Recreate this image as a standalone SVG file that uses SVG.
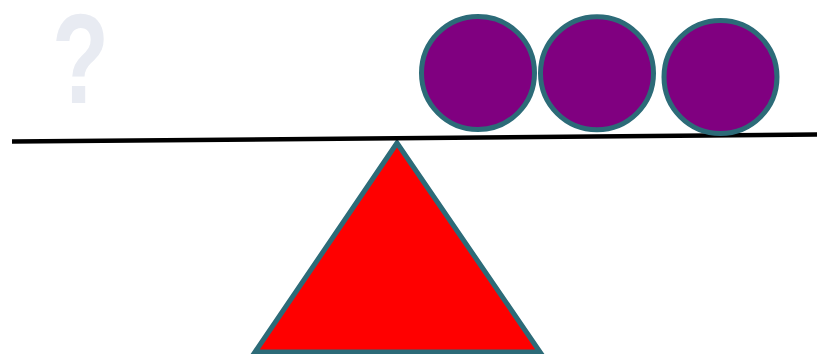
<svg xmlns="http://www.w3.org/2000/svg" width="817" height="354" viewBox="0 0 817 354">
  <style>
    .ball { fill: #800080; stroke: #2c6b78; stroke-width: 5; }
    .pivot { fill: #ff0000; stroke: #2c6b78; stroke-width: 5; stroke-linejoin: miter; }
    .beam { stroke: #000000; stroke-width: 4.5; fill: none; }
    .q { font-family: "Liberation Sans", Arial, sans-serif; font-weight: bold; font-size: 128px; fill: #e8ebf2; }
  </style>
  <rect width="817" height="354" fill="#ffffff"/>
  <g id="question">
    <text class="q" x="52" y="103" textLength="57" lengthAdjust="spacingAndGlyphs">?</text>
  </g>
  <g id="pivot">
    <polygon class="pivot" points="397,143 255,352 540,352"/>
  </g>
  <g id="connectors">
    <line class="beam" x1="12" y1="141.5" x2="817" y2="134.5"/>
  </g>
  <g id="ball1">
    <circle class="ball" cx="478" cy="73" r="56.5"/>
  </g>
  <g id="ball2">
    <circle class="ball" cx="597" cy="73.3" r="56.5"/>
  </g>
  <g id="ball3">
    <circle class="ball" cx="720.5" cy="77" r="56.5"/>
  </g>
</svg>
